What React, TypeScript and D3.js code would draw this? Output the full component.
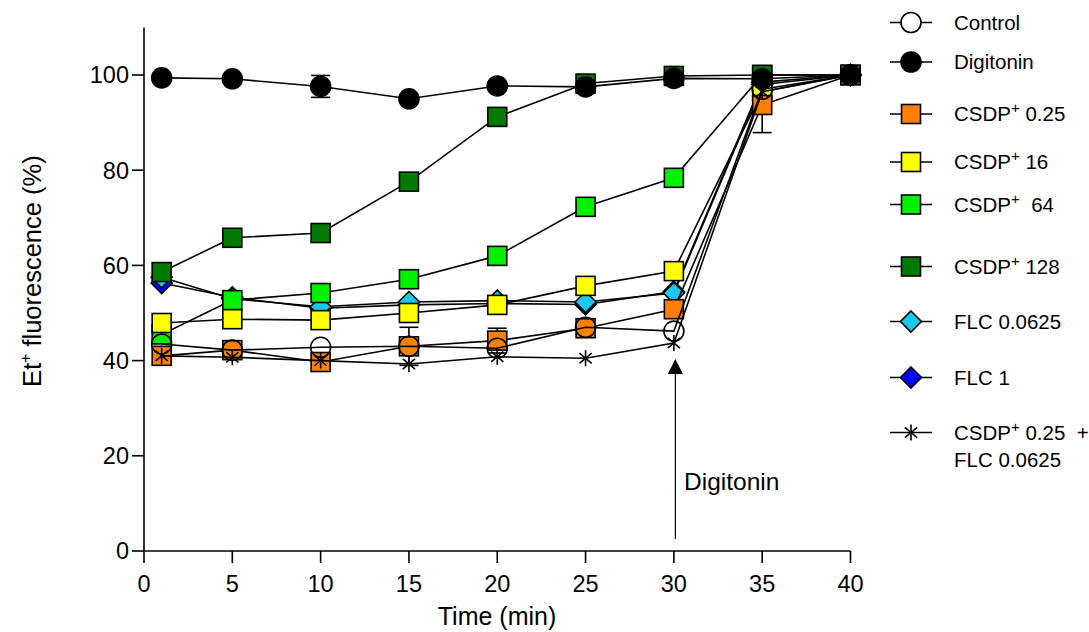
import React from "react";
import * as d3 from "d3";

const timePoints = [1, 5, 10, 15, 20, 25, 30, 35, 40];
const xTickValues = [0, 5, 10, 15, 20, 25, 30, 35, 40];
const yTickValues = [0, 20, 40, 60, 80, 100];

const controlValues = [43.5, 42.2, 42.8, 43, 42.6, 47, 46.2, 97, 100];
const digitoninValues = [99.4, 99.2, 97.6, 95, 97.7, 97.5, 99.3, 99.2, 100];
const digitoninErr = [0, 0, 2.3, 0, 0, 0, 0, 0, 0];
const csdp025Values = [41, 42.2, 39.7, 43, 44.2, 46.8, 50.8, 93.7, 100];
const csdp025Err = [0, 0, 0, 4, 2.6, 0, 0, 5.8, 0];
const csdp16Values = [47.9, 48.7, 48.5, 50, 51.7, 55.7, 58.8, 96.5, 100];
const csdp64Values = [45.5, 52.7, 54.2, 57.1, 62, 72.3, 78.4, 100, 100];
const csdp128Values = [58.6, 65.8, 66.8, 77.6, 91.2, 98.2, 99.8, 100, 100];
const flc00625Values = [57.5, 53, 51.3, 52.3, 52.6, 52.3, 54.2, 98, 100];
const flc1Values = [56.3, 53.3, 51, 51.7, 52, 51.8, 54.5, 98.5, 100];
const comboValues = [41, 40.7, 40, 39.3, 40.8, 40.5, 43.7, 96.5, 100];
const zeroErr = [0, 0, 0, 0, 0, 0, 0, 0, 0];

type Shape = "circle" | "square" | "diamond" | "asterisk";
interface Series {
  name: string;
  values: number[];
  err: number[];
  shape: Shape;
  fill: string;
}

// draw order (bottom to top)
const drawOrder: Series[] = [
  { name: "FLC 1", values: flc1Values, err: zeroErr, shape: "diamond", fill: "#0000FF" },
  { name: "FLC 0.0625", values: flc00625Values, err: zeroErr, shape: "diamond", fill: "#19C8F5" },
  { name: "CSDP 64", values: csdp64Values, err: zeroErr, shape: "square", fill: "#00F000" },
  { name: "CSDP 128", values: csdp128Values, err: zeroErr, shape: "square", fill: "#007A00" },
  { name: "CSDP 16", values: csdp16Values, err: zeroErr, shape: "square", fill: "#FFFF00" },
  { name: "CSDP 0.25", values: csdp025Values, err: csdp025Err, shape: "square", fill: "#FF8000" },
  { name: "Digitonin", values: digitoninValues, err: digitoninErr, shape: "circle", fill: "#000000" },
  { name: "Combo", values: comboValues, err: zeroErr, shape: "asterisk", fill: "none" },
  { name: "Control", values: controlValues, err: zeroErr, shape: "circle", fill: "none" },
];

const legendItems: { lines: { main: string; sup?: string; rest?: string }[]; shape: Shape; fill: string; y: number }[] = [
  { lines: [{ main: "Control" }], shape: "circle", fill: "#FFFFFF", y: 22.5 },
  { lines: [{ main: "Digitonin" }], shape: "circle", fill: "#000000", y: 62 },
  { lines: [{ main: "CSDP", sup: "+", rest: " 0.25" }], shape: "square", fill: "#FF8000", y: 114 },
  { lines: [{ main: "CSDP", sup: "+", rest: " 16" }], shape: "square", fill: "#FFFF00", y: 162 },
  { lines: [{ main: "CSDP", sup: "+", rest: "  64" }], shape: "square", fill: "#00F000", y: 204.5 },
  { lines: [{ main: "CSDP", sup: "+", rest: " 128" }], shape: "square", fill: "#007A00", y: 266.5 },
  { lines: [{ main: "FLC 0.0625" }], shape: "diamond", fill: "#19C8F5", y: 321.5 },
  { lines: [{ main: "FLC 1" }], shape: "diamond", fill: "#0000FF", y: 377.5 },
  { lines: [{ main: "CSDP", sup: "+", rest: " 0.25  +" }, { main: "FLC 0.0625" }], shape: "asterisk", fill: "none", y: 432.5 },
];

const FONT = "'Liberation Sans', Arial, Helvetica, sans-serif";

function Marker({ shape, fill, cx, cy }: { shape: Shape; fill: string; cx: number; cy: number }) {
  const sw = 1.6;
  if (shape === "circle") {
    return <circle cx={cx} cy={cy} r={10} fill={fill} stroke="#000" strokeWidth={sw} />;
  }
  if (shape === "square") {
    return <rect x={cx - 9.5} y={cy - 9.5} width={19} height={19} fill={fill} stroke="#000" strokeWidth={sw} />;
  }
  if (shape === "diamond") {
    const h = 10.5;
    return (
      <polygon
        points={`${cx},${cy - h} ${cx + h},${cy} ${cx},${cy + h} ${cx - h},${cy}`}
        fill={fill}
        stroke="#000"
        strokeWidth={sw}
      />
    );
  }
  const len = 8;
  const a = (40 * Math.PI) / 180;
  const dx = len * Math.cos(a);
  const dy = len * Math.sin(a);
  return (
    <g stroke="#000" strokeWidth={1.6}>
      <line x1={cx} y1={cy - len} x2={cx} y2={cy + len} />
      <line x1={cx - dx} y1={cy - dy} x2={cx + dx} y2={cy + dy} />
      <line x1={cx - dx} y1={cy + dy} x2={cx + dx} y2={cy - dy} />
    </g>
  );
}

export default function App() {
  const x = d3.scaleLinear().domain([0, 40]).range([144, 850.5]);
  const y = d3.scaleLinear().domain([0, 100]).range([551, 75]);
  const yTop = y(110);
  const line = d3
    .line<number>()
    .x((_, i) => x(timePoints[i]))
    .y((d) => y(d));

  const tickLen = 12;

  return (
    <svg
      width={1089}
      height={632}
      style={{ position: "absolute", left: 0, top: 0, background: "#fff" }}
      fontFamily={FONT}
    >
      <rect width={1089} height={632} fill="#fff" />
      {/* axes */}
      <g stroke="#000" strokeWidth={1.6} fill="none">
        <line x1={x(0)} y1={yTop} x2={x(0)} y2={y(0)} />
        <line x1={x(0)} y1={y(0)} x2={x(40)} y2={y(0)} />
        {yTickValues.map((v) => (
          <line key={"yt" + v} x1={x(0) - tickLen} y1={y(v)} x2={x(0)} y2={y(v)} />
        ))}
        {xTickValues.map((v) => (
          <line key={"xt" + v} x1={x(v)} y1={y(0)} x2={x(v)} y2={y(0) + tickLen} />
        ))}
      </g>
      {yTickValues.map((v) => (
        <text key={"yl" + v} x={x(0) - tickLen - 3} y={y(v)} dy="0.36em" textAnchor="end" fontSize={23.5} fill="#000">
          {v}
        </text>
      ))}
      {xTickValues.map((v) => (
        <text key={"xl" + v} x={x(v)} y={592} textAnchor="middle" fontSize={23.5} fill="#000">
          {v}
        </text>
      ))}
      <text x={497} y={625} textAnchor="middle" fontSize={25} fill="#000">
        Time (min)
      </text>
      <text transform={`translate(41,${(y(0) + yTop) / 2 - 18}) rotate(-90)`} textAnchor="middle" fontSize={25.5} fill="#000">
        Et<tspan fontSize={16} dy={-10}>+</tspan>
        <tspan dy={10}> fluorescence (%)</tspan>
      </text>

      {/* Digitonin arrow */}
      <line x1={x(30) + 1.5} y1={y(2.5)} x2={x(30) + 1.5} y2={372} stroke="#000" strokeWidth={1.2} />
      <polygon
        points={`${x(30) + 1.5},${359} ${x(30) + 1.5 + 7.5},${374} ${x(30) + 1.5 - 7.5},${374}`}
        fill="#000"
      />
      <text x={684} y={490} fontSize={24.5} fill="#000">
        Digitonin
      </text>

      {/* series */}
      {drawOrder.map((s) => (
        <g key={s.name}>
          <path d={line(s.values) || ""} fill="none" stroke="#000" strokeWidth={1.6} />
          {s.values.map((v, i) =>
            s.err[i] > 0 ? (
              <g key={"e" + i} stroke="#000" strokeWidth={1.6}>
                <line x1={x(timePoints[i])} y1={y(v - s.err[i])} x2={x(timePoints[i])} y2={y(v + s.err[i])} />
                <line x1={x(timePoints[i]) - 9.5} y1={y(v - s.err[i])} x2={x(timePoints[i]) + 9.5} y2={y(v - s.err[i])} />
                <line x1={x(timePoints[i]) - 9.5} y1={y(v + s.err[i])} x2={x(timePoints[i]) + 9.5} y2={y(v + s.err[i])} />
              </g>
            ) : null
          )}
          {s.values.map((v, i) => (
            <Marker key={"m" + i} shape={s.shape} fill={s.fill} cx={x(timePoints[i])} cy={y(v)} />
          ))}
        </g>
      ))}

      {/* legend */}
      {legendItems.map((it, k) => (
        <g key={"lg" + k}>
          <line x1={890} y1={it.y} x2={932} y2={it.y} stroke="#000" strokeWidth={1.6} />
          <Marker shape={it.shape} fill={it.fill} cx={911} cy={it.y} />
          {it.lines.map((ln, j) => (
            <text key={j} x={954} y={it.y + j * 27.5} dy="0.36em" fontSize={20.5} fill="#000" style={{ whiteSpace: "pre" }}>
              {ln.main}
              {ln.sup ? (
                <tspan fontSize={15} dy={-8}>
                  {ln.sup}
                </tspan>
              ) : null}
              {ln.rest ? <tspan dy={ln.sup ? 8 : 0}>{ln.rest}</tspan> : null}
            </text>
          ))}
        </g>
      ))}
    </svg>
  );
}
